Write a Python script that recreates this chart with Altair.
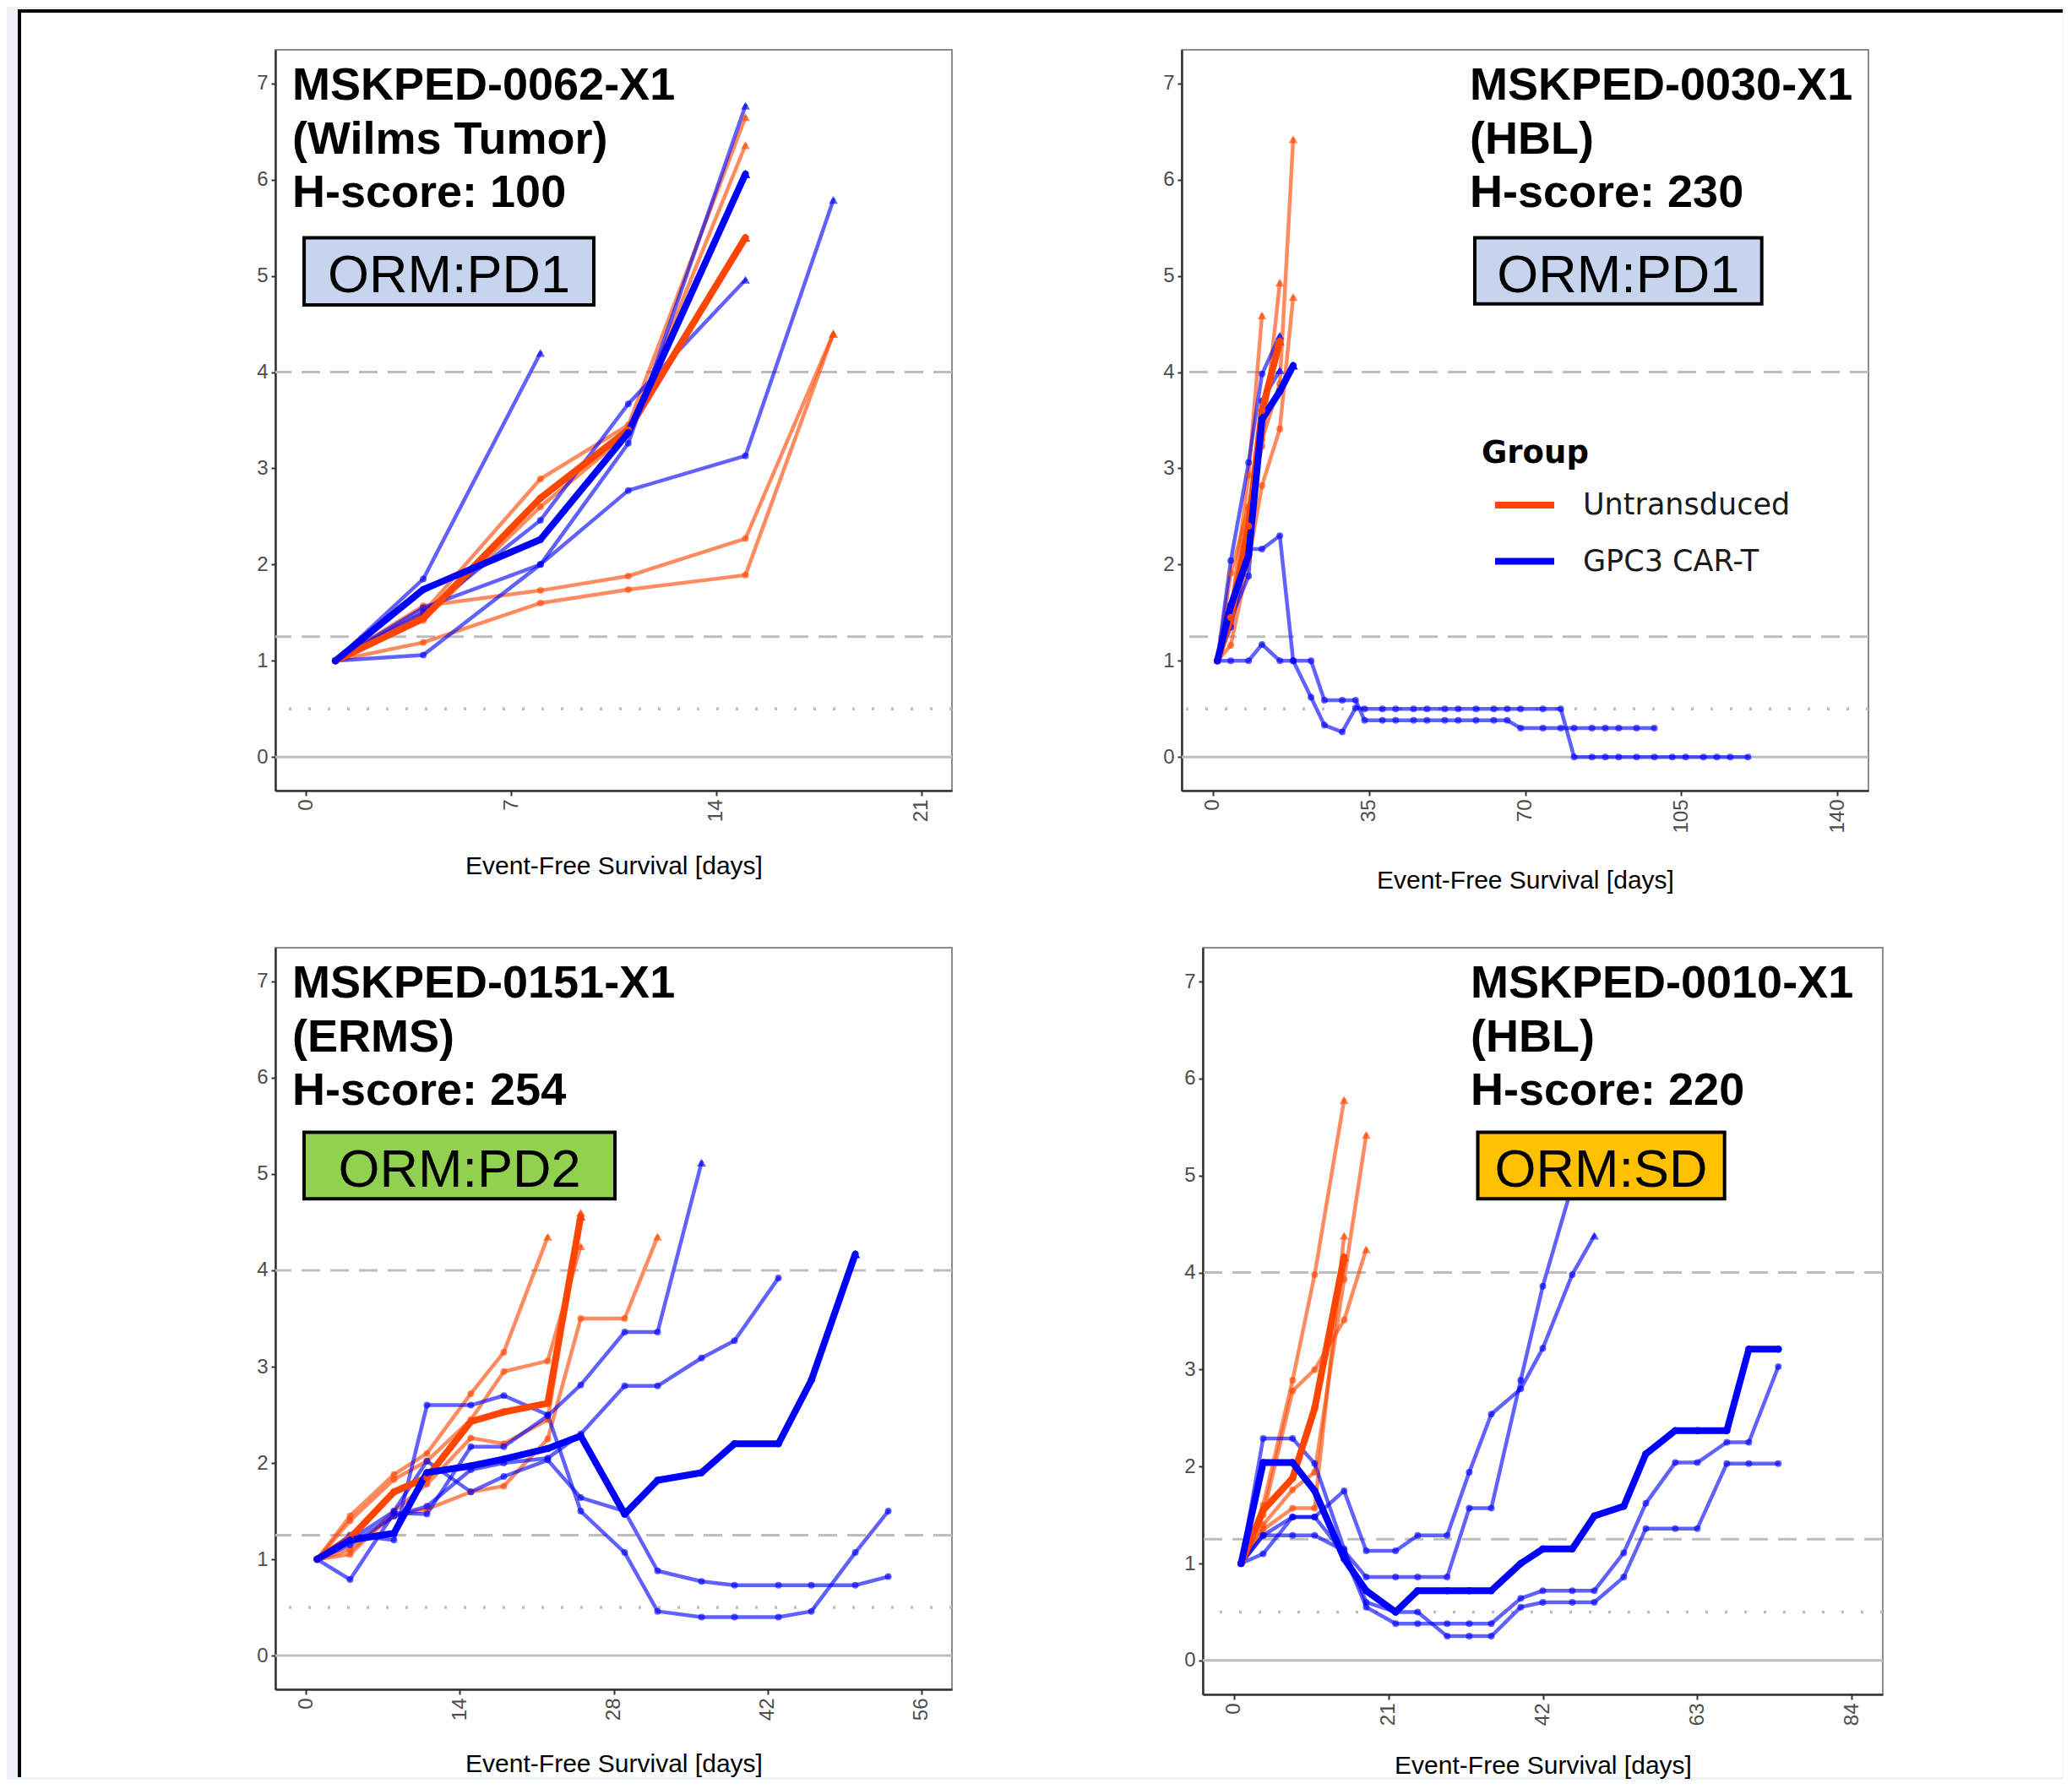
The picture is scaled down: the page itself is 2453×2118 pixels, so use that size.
import altair as alt
import pandas as pd

# ---------------- data ----------------
GROUPS = ["Untransduced", "GPC3 CAR-T"]
GROUP_COLORS = ["#ff4500", "#0000ff"]
Y_TICKS = [0, 1, 2, 3, 4, 5, 6, 7]
DASHED_LEVELS = [4, 1.25]
DOTTED_LEVELS = [0.5]
ZERO_LEVEL = [0]

# each series: (group index, thick line?, days, relative tumour volume)
P1_TITLE = ["MSKPED-0062-X1", "(Wilms Tumor)", "H-score: 100"]
P1_ORM = "ORM:PD1"
P1_XTICKS = [0, 7, 14, 21]
P1_SERIES = [
    (0, False, [1, 4, 8, 11, 15], [1, 1.50, 2.89, 3.45, 6.65]),
    (0, False, [1, 4, 8, 11, 15], [1, 1.42, 2.60, 3.36, 6.36]),
    (0, False, [1, 4, 8, 11, 15, 18], [1, 1.57, 1.73, 1.88, 2.27, 4.40]),
    (0, False, [1, 4, 8, 11, 15, 18], [1, 1.19, 1.60, 1.74, 1.89, 4.40]),
    (0, True, [1, 4, 8, 11, 15], [1, 1.44, 2.69, 3.40, 5.40]),
    (1, False, [1, 4, 8], [1, 1.85, 4.20]),
    (1, False, [1, 4, 8, 11, 15], [1, 1.50, 2.46, 3.67, 4.96]),
    (1, False, [1, 4, 8, 11, 15], [1, 1.06, 2.00, 3.26, 6.77]),
    (1, False, [1, 4, 8, 11, 15, 18], [1, 1.55, 2.00, 2.77, 3.13, 5.79]),
    (1, True, [1, 4, 8, 11, 15], [1, 1.74, 2.26, 3.37, 6.06]),
]

P2_TITLE = ["MSKPED-0030-X1", "(HBL)", "H-score: 230"]
P2_ORM = "ORM:PD1"
P2_XTICKS = [0, 35, 70, 105, 140]
P2_SERIES = [
    (0, False, [1, 4, 8, 11], [1, 1.50, 2.93, 4.59]),
    (0, False, [1, 4, 8, 11, 15], [1, 1.38, 2.57, 3.23, 4.93]),
    (0, False, [1, 4, 8, 11, 15, 18], [1, 1.16, 2.04, 2.82, 3.41, 4.78]),
    (0, False, [1, 4, 8, 11, 15, 18], [1, 1.91, 2.60, 3.30, 3.88, 6.42]),
    (0, True, [1, 4, 8, 11, 15], [1, 1.45, 2.40, 3.60, 4.32]),
    (1, False, [1, 4, 8, 11, 15], [1, 2.04, 3.06, 3.98, 4.38]),
    (1, False, [1, 4, 8, 11, 15], [1, 1.44, 1.88, 3.70, 4.02]),
    (1, False,
     [1, 4, 8, 11, 15, 18, 22, 25, 29, 32, 34, 38, 41, 45, 48, 52, 55, 59, 63,
      66, 69, 74, 78, 81, 85, 88, 91, 95, 99],
     [1, 1, 1, 1.17, 1, 1, 1, 0.59, 0.59, 0.59, 0.38, 0.38, 0.38, 0.38, 0.38,
      0.38, 0.38, 0.38, 0.38, 0.38, 0.30, 0.30, 0.30, 0.30, 0.30, 0.30, 0.30,
      0.30, 0.30]),
    (1, False,
     [1, 4, 8, 11, 15, 18, 22, 25, 29, 32, 34, 38, 41, 45, 48, 52, 55, 59, 63,
      66, 69, 74, 78, 81, 85, 88, 91, 95, 99, 103, 106, 110, 113, 116, 120],
     [1, 1.35, 2.16, 2.16, 2.30, 1.0, 0.62, 0.33, 0.26, 0.51, 0.50, 0.50, 0.50,
      0.50, 0.50, 0.50, 0.50, 0.50, 0.50, 0.50, 0.50, 0.50, 0.50, 0, 0, 0, 0,
      0, 0, 0, 0, 0, 0, 0, 0]),
    (1, True, [1, 4, 8, 11, 15, 18], [1, 1.57, 2.10, 3.51, 3.80, 4.07]),
]

P3_TITLE = ["MSKPED-0151-X1", "(ERMS)", "H-score: 254"]
P3_ORM = "ORM:PD2"
P3_XTICKS = [0, 14, 28, 42, 56]
P3_DAYS = [1, 4, 8, 11, 15, 18, 22, 25, 29, 32, 36, 39, 43, 46, 50, 53]
P3_SERIES = [
    (0, False, P3_DAYS[:7], [1, 1.45, 1.88, 2.10, 2.72, 3.15, 4.35]),
    (0, False, P3_DAYS[:8], [1, 1.40, 1.83, 2.02, 2.45, 2.95, 3.06, 4.25]),
    (0, False, P3_DAYS[:10], [1, 1.10, 1.45, 1.52, 1.70, 1.76, 2.25, 3.50, 3.50, 4.35]),
    (0, False, P3_DAYS[:8], [1, 1.05, 1.50, 1.78, 2.26, 2.20, 2.45, 4.60]),
    (0, True, P3_DAYS[:8], [1, 1.22, 1.70, 1.85, 2.43, 2.53, 2.62, 4.56]),
    (1, False, P3_DAYS, [1, 1.25, 1.20, 2.60, 2.60, 2.70, 2.50, 1.50, 1.07, 0.46,
                         0.40, 0.40, 0.40, 0.46, 1.07, 1.50]),
    (1, False, P3_DAYS[:11], [1, 0.79, 1.48, 1.47, 2.17, 2.17, 2.49, 2.81, 3.36, 3.36, 5.12]),
    (1, False, P3_DAYS, [1, 1.20, 1.50, 2.02, 1.70, 1.86, 2.03, 1.64, 1.50, 0.88,
                         0.77, 0.73, 0.73, 0.73, 0.73, 0.82]),
    (1, False, P3_DAYS[:13], [1, 1.15, 1.45, 1.55, 1.93, 2.00, 2.05, 2.30, 2.80, 2.80,
                              3.09, 3.27, 3.92]),
    (1, True, P3_DAYS[:15], [1, 1.20, 1.27, 1.90, 1.97, 2.04, 2.15, 2.28, 1.47, 1.82,
                             1.90, 2.20, 2.20, 2.86, 4.17]),
]

P4_TITLE = ["MSKPED-0010-X1", "(HBL)", "H-score: 220"]
P4_ORM = "ORM:SD"
P4_XTICKS = [0, 21, 42, 63, 84]
P4_DAYS = [1, 4, 8, 11, 15, 18, 22, 25, 29, 32, 35, 39, 42, 46, 49, 53, 56, 60,
           63, 67, 70, 74]
P4_SERIES = [
    (0, False, P4_DAYS[:5], [1, 1.60, 2.89, 3.98, 5.78]),
    (0, False, P4_DAYS[:6], [1, 1.50, 2.78, 3.00, 3.51, 4.24]),
    (0, False, P4_DAYS[:5], [1, 1.35, 1.57, 1.57, 4.38]),
    (0, False, P4_DAYS[:6], [1, 1.40, 1.76, 1.94, 3.93, 5.42]),
    (0, True, P4_DAYS[:5], [1, 1.55, 1.88, 2.60, 4.16]),
    (1, False, P4_DAYS[:15], [1, 1.10, 1.48, 1.48, 1.75, 1.13, 1.13, 1.29, 1.29,
                              1.94, 2.54, 2.80, 3.22, 3.98, 4.38]),
    (1, False, P4_DAYS[:14], [1, 1.29, 1.29, 1.29, 1.13, 0.86, 0.86, 0.86, 0.86,
                              1.57, 1.57, 2.89, 3.86, 4.90]),
    (1, False, P4_DAYS, [1, 1.29, 1.48, 1.48, 1.10, 0.55, 0.38, 0.38, 0.38, 0.38,
                         0.38, 0.64, 0.72, 0.72, 0.72, 1.11, 1.62, 2.04, 2.04,
                         2.25, 2.25, 3.03]),
    (1, False, P4_DAYS, [1, 2.29, 2.29, 2.03, 1.15, 0.60, 0.50, 0.50, 0.25, 0.25,
                         0.25, 0.55, 0.60, 0.60, 0.60, 0.86, 1.36, 1.36, 1.36,
                         2.03, 2.03, 2.03]),
    (1, True, P4_DAYS, [1, 2.04, 2.04, 1.75, 1.05, 0.72, 0.50, 0.72, 0.72, 0.72,
                        0.72, 1.00, 1.15, 1.15, 1.49, 1.59, 2.13, 2.37, 2.37,
                        2.37, 3.21, 3.21]),
]

ORM_FILLS = {"ORM:PD1": "#c6d5ed", "ORM:PD2": "#92d050", "ORM:SD": "#ffc000"}
AXIS_TITLE = "Event-Free Survival [days]"

# ---------------- helpers ----------------
ONE = [{"k": 1}]
REF_COLOR = "#bdbdbd"
FONT = "Liberation Sans"


def to_frame(series, key):
    rows = []
    for i, (g, thick, days, vals) in enumerate(series):
        n = len(days)
        for j, (d, v) in enumerate(zip(days, vals)):
            rows.append({
                "sid": f"{key}_{g}_{i:02d}",
                "group": GROUPS[g],
                "thick": thick,
                "day": d,
                "value": v,
                "tri": bool(j == n - 1 and v >= 4),
            })
    return pd.DataFrame(rows)


def panel(series, key, xdom, xticks, w, h, title_lines, tx, ty, orm, box,
          title_pad, legend=None):
    df = to_frame(series, key)
    X = alt.X("day:Q", scale=alt.Scale(domain=xdom, nice=False, zero=False),
              axis=alt.Axis(values=xticks, title=AXIS_TITLE, titlePadding=title_pad))
    Y = alt.Y("value:Q", scale=alt.Scale(domain=[-0.35, 7.35], nice=False, zero=False),
              axis=alt.Axis(values=Y_TICKS, title=None))

    def C(leg):
        return alt.Color("group:N", scale=alt.Scale(domain=GROUPS, range=GROUP_COLORS),
                         legend=leg)

    base = alt.Chart(df)
    layers = [
        alt.Chart(pd.DataFrame({"value": ZERO_LEVEL})).mark_rule(
            color=REF_COLOR, strokeWidth=3).encode(y=Y),
        alt.Chart(pd.DataFrame({"value": DASHED_LEVELS})).mark_rule(
            color=REF_COLOR, strokeWidth=3, strokeDash=[22, 12]).encode(y=Y),
        alt.Chart(pd.DataFrame({"value": DOTTED_LEVELS})).mark_rule(
            color=REF_COLOR, strokeWidth=3.5, strokeDash=[3, 20]).encode(y=Y),
        base.transform_filter("!datum.thick").mark_line(
            strokeWidth=4.5, opacity=0.62, strokeJoin="round", strokeCap="round"
        ).encode(x=X, y=Y, detail="sid:N", color=C(None)),
        base.transform_filter("!datum.thick && !datum.tri").mark_circle(
            size=64, opacity=0.62).encode(x=X, y=Y, color=C(None)),
        base.transform_filter("!datum.thick && datum.tri").mark_point(
            shape="triangle-up", filled=True, size=115, opacity=0.62
        ).encode(x=X, y=Y, color=C(None)),
        base.transform_filter("datum.thick").mark_line(
            strokeWidth=8, opacity=1, strokeJoin="round", strokeCap="round"
        ).encode(x=X, y=Y, detail="sid:N", color=C(legend)),
        base.transform_filter("datum.thick && !datum.tri").mark_circle(
            size=72, opacity=1).encode(x=X, y=Y, color=C(None)),
        base.transform_filter("datum.thick && datum.tri").mark_point(
            shape="triangle-up", filled=True, size=130, opacity=1
        ).encode(x=X, y=Y, color=C(None)),
        alt.Chart(alt.Data(values=ONE)).mark_text(
            text=title_lines, font=FONT, fontWeight="bold", fontSize=54,
            lineHeight=63.5, align="left", baseline="middle", color="#000000"
        ).encode(x=alt.value(tx), y=alt.value(ty)),
        alt.Chart(alt.Data(values=ONE)).mark_rect(
            fill=ORM_FILLS[orm], stroke="#000000", strokeWidth=4
        ).encode(x=alt.value(box[0]), x2=alt.value(box[1]),
                 y=alt.value(box[2]), y2=alt.value(box[3])),
        alt.Chart(alt.Data(values=ONE)).mark_text(
            text=orm, font=FONT, fontSize=63, align="center", baseline="middle",
            color="#000000"
        ).encode(x=alt.value((box[0] + box[1]) / 2),
                 y=alt.value((box[2] + box[3]) / 2 + 6)),
    ]
    ch = alt.layer(*layers).properties(width=w, height=h)
    if legend is not None:
        ch = ch.resolve_legend(color="independent")
    return ch


legend = alt.Legend(
    orient="none", legendX=355, legendY=460, title="Group",
    titleFont="DejaVu Sans", titleFontSize=37, titleFontWeight="bold",
    titleColor="#000000", titlePadding=3, labelFont="DejaVu Sans",
    labelFontSize=35, labelColor="#1a1a1a", labelOffset=30, labelLimit=500,
    symbolType="stroke", symbolSize=4900, symbolStrokeWidth=8,
    symbolOffset=12, rowPadding=9.5, padding=0,
)

p1 = panel(P1_SERIES, "p1", [-1.05, 22.05], P1_XTICKS, 801, 877, P1_TITLE,
           20, 43, P1_ORM, (34, 377, 222.6, 301.9), 38)
p2 = panel(P2_SERIES, "p2", [-7, 147], P2_XTICKS, 813, 877, P2_TITLE,
           341, 43, P2_ORM, (347, 686.7, 222.6, 300.7), 41, legend)
p3 = panel(P3_SERIES, "p3", [-2.8, 58.8], P3_XTICKS, 801, 878, P3_TITLE,
           20, 43, P3_ORM, (34, 402, 218.4, 297.3), 37)
p4 = panel(P4_SERIES, "p4", [-4.2, 88.2], P4_XTICKS, 805, 884, P4_TITLE,
           317, 43, P4_ORM, (325.5, 617.7, 218.4, 297.3), 33)

row1 = alt.hconcat(p1, p2, spacing=245).resolve_legend(color="independent")
row2 = alt.hconcat(p3, p4, spacing=270)
grid = alt.vconcat(row1, row2, spacing=62).resolve_legend(color="independent")

# white sheet with black top/left edge behind the panels
RX, RY, RX2, RY2 = -305, -47, 2116, 2046
sheet = alt.layer(
    alt.Chart(alt.Data(values=ONE)).mark_rect(fill="#ffffff").encode(
        x=alt.value(RX), x2=alt.value(RX2), y=alt.value(RY), y2=alt.value(RY2)),
    alt.Chart(alt.Data(values=ONE)).mark_rule(
        color="#000000", strokeWidth=4, strokeCap="square").encode(
        x=alt.value(RX + 2), x2=alt.value(RX2 - 2), y=alt.value(RY + 2)),
    alt.Chart(alt.Data(values=ONE)).mark_rule(
        color="#000000", strokeWidth=4, strokeCap="square").encode(
        x=alt.value(RX + 2), y=alt.value(RY + 2), y2=alt.value(RY2 - 2)),
).properties(width=1, height=1, view=alt.ViewBackground(strokeOpacity=0))

chart = alt.vconcat(sheet, grid, spacing=0, bounds="flush").resolve_legend(
    color="independent"
).properties(
    padding={"left": 12, "top": 2, "right": 0, "bottom": 0},
    background="#eff1f8",
).configure_view(
    stroke="#8c8c8c", strokeWidth=2
).configure_axis(
    labelFont=FONT, labelFontSize=24, labelColor="#4d4d4d",
    tickColor="#333333", tickWidth=2, domainColor="#333333", domainWidth=2.5,
    grid=False, titleFont=FONT, titleFontSize=30, titleFontWeight="normal",
    titleColor="#000000",
).configure_axisX(
    labelAngle=270, tickSize=6, labelPadding=4
).configure_axisY(
    tickSize=5, labelPadding=4
)

chart.save("out.html", embed_options={"renderer": "svg", "actions": False})
